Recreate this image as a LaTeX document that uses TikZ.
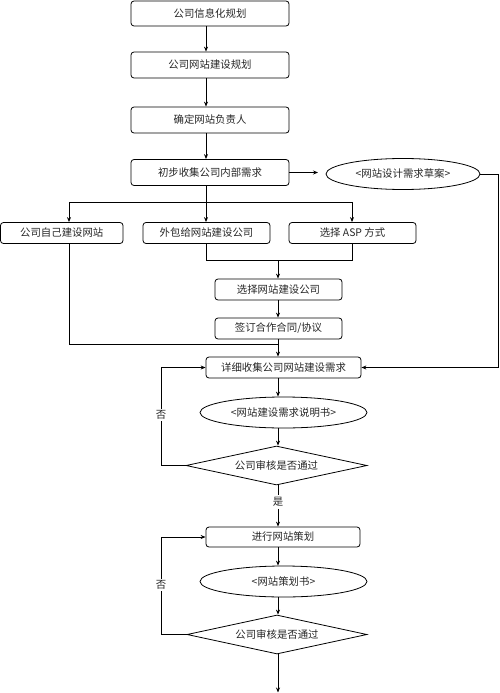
\documentclass[tikz,border=0pt]{standalone}
\usepackage{fontspec}
\newfontfamily\cjk{Noto Sans CJK SC}
\usetikzlibrary{shapes.geometric,arrows.meta}
\begin{document}
\begin{tikzpicture}[x=1pt,y=-1pt,line width=0.8pt,
  txt/.style={font=\cjk\fontsize{10.4}{12}\selectfont,text=black!85},
  box/.style={txt,draw,rounded corners=3pt,inner sep=0pt},
  oval/.style={txt,draw,ellipse,inner sep=0pt},
  dia/.style={txt,draw,diamond,aspect=4.6,inner sep=0pt},
  lbl/.style={txt,inner sep=2pt,fill=white},
  arr/.style={-{Stealth[length=5pt,width=4pt]}}]
\useasboundingbox (0,0) rectangle (500,693);
% nodes
\node[box,minimum width=158,minimum height=25] (b1) at (210,13.5) {公司信息化规划};
\node[box,minimum width=158,minimum height=26] (b2) at (210,65) {公司网站建设规划};
\node[box,minimum width=158,minimum height=26] (b3) at (210,120) {确定网站负责人};
\node[box,minimum width=158,minimum height=26] (b4) at (210,172.5) {初步收集公司内部需求};
\node[oval,minimum width=154,minimum height=31] (e1) at (403,174) {<网站设计需求草案>};
\node[box,minimum width=122.5,minimum height=21] (bA) at (61.75,233) {公司自己建设网站};
\node[box,minimum width=127,minimum height=21] (bB) at (206.5,233) {外包给网站建设公司};
\node[box,minimum width=127,minimum height=21] (bC) at (352.5,233) {选择 ASP 方式};
\node[box,minimum width=127,minimum height=21] (bD) at (278.5,289.5) {选择网站建设公司};
\node[box,minimum width=127,minimum height=21] (bE) at (278.5,328.5) {签订合作合同/协议};
\node[box,minimum width=155,minimum height=21] (bF) at (283.5,367.5) {详细收集公司网站建设需求};
\node[oval,minimum width=167,minimum height=31] (e2) at (283.5,412.5) {<网站建设需求说明书>};
\node[dia,minimum width=181,minimum height=39] (d1) at (276.5,465.5) {公司审核是否通过};
\node[lbl] (yes) at (278,502) {是};
\node[box,minimum width=154,minimum height=20] (bG) at (283,537) {进行网站策划};
\node[oval,minimum width=167,minimum height=31] (e3) at (283.5,581.5) {<网站策划书>};
\node[dia,minimum width=180,minimum height=39] (d2) at (277,634.5) {公司审核是否通过};
% helper coordinates
\coordinate (c1) at (206,0);
\coordinate (m) at (278,260);
\coordinate (xa) at (69,202);
\coordinate (xb) at (206,202);
\coordinate (xc) at (352,202);
\coordinate (j2) at (278,344);
\coordinate (rt) at (498.5,0);
\coordinate (e1tip) at (318,172.5);
\coordinate (l1) at (161,0);
\coordinate (fin) at (278,692.5);
% connectors
\draw[arr] (b1.south -| c1) -- (b2.north -| c1);
\draw[arr] (b2.south -| c1) -- (b3.north -| c1);
\draw[arr] (b3.south -| c1) -- (b4.north -| c1);
\draw[arr] (b4.east) -- (e1tip);
\draw[arr] (e1.east) -- (e1.east -| rt) |- (bF.east);
\draw (b4.south -| c1) -- (xb);
\draw (xa) -- (xc);
\draw[arr] (xa) -- (xa |- bA.north);
\draw[arr] (xb) -- (xb |- bB.north);
\draw[arr] (xc) -- (xc |- bC.north);
\draw (bB.south -| xb) |- (xc |- m) -- (bC.south -| xc);
\draw[arr] (m) -- (bD.north -| m);
\draw[arr] (bD.south -| m) -- (bE.north -| m);
\draw (bA.south -| xa) |- (j2);
\draw[arr] (bE.south -| m) -- (bF.north -| m);
\draw[arr] (bF.south -| m) -- (e2.north -| m);
\draw[arr] (e2.south -| m) -- (d1.north -| m);
\draw[arr] (d1.west) -- (d1.west -| l1) -- (l1 |- bF.west) -- (bF.west);
\draw (d1.south -| m) -- (yes.north);
\draw[arr] (yes.south) -- (bG.north -| m);
\draw[arr] (bG.south -| m) -- (e3.north -| m);
\draw[arr] (e3.south -| m) -- (d2.north -| m);
\draw[arr] (d2.west) -- (d2.west -| l1) -- (l1 |- bG.west) -- (bG.west);
\draw[arr] (d2.south -| m) -- (fin);
% labels
\node[lbl] (no1) at (161,415) {否};
\node[lbl] (no2) at (161,585) {否};
\end{tikzpicture}
\end{document}
